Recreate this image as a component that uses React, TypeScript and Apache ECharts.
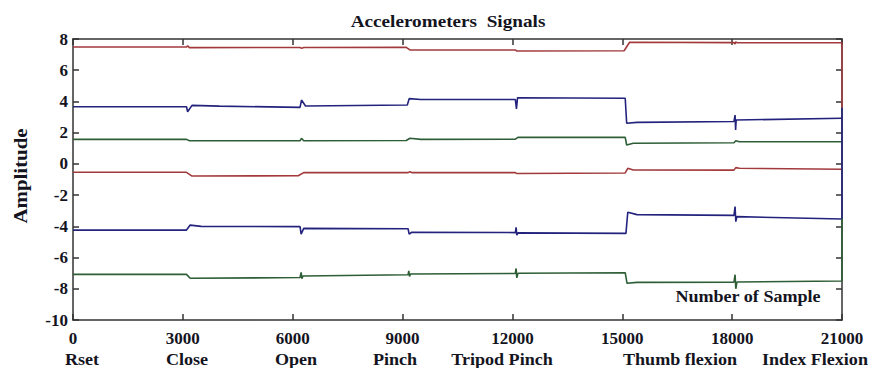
import React, { useEffect, useRef } from "react";
import * as echarts from "echarts";

// Sample index ticks and amplitude range
const xTicks = [0, 3000, 6000, 9000, 12000, 15000, 18000, 21000];
const categories = ["Rset", "Close", "Open", "Pinch", "Tripod Pinch", "Thumb flexion", "Index Flexion"];

// Series values: [sample, amplitude]
const redTop: number[][] = [
  [0, 7.49], [3100, 7.49], [3130, 7.56], [3180, 7.45], [6200, 7.46], [6240, 7.4], [6300, 7.46],
  [9100, 7.47], [9200, 7.3], [12080, 7.3], [12120, 7.23], [15050, 7.25], [15200, 7.79],
  [18050, 7.77], [18080, 7.68], [18100, 7.82], [18130, 7.76], [21000, 7.76], [21000, 3.6],
];
const blueTop: number[][] = [
  [0, 3.66], [3100, 3.66], [3130, 3.34], [3250, 3.75], [4000, 3.7], [6200, 3.62], [6240, 4.09],
  [6350, 3.71], [9130, 3.77], [9180, 4.18], [9500, 4.12], [12080, 4.12], [12110, 3.52],
  [12140, 4.24], [15080, 4.2], [15120, 2.6], [15400, 2.66], [18050, 2.72], [18080, 3.13],
  [18095, 2.17], [18110, 2.81], [21000, 2.92],
];
const greenTop: number[][] = [
  [0, 1.57], [3100, 1.57], [3180, 1.48], [6200, 1.48], [6240, 1.64], [6300, 1.48], [9100, 1.5],
  [9200, 1.64], [9500, 1.57], [12080, 1.58], [12150, 1.7], [15080, 1.7], [15120, 1.21],
  [15300, 1.32], [18050, 1.35], [18100, 1.48], [18200, 1.42], [21000, 1.42],
];
const redMid: number[][] = [
  [0, -0.54], [3100, -0.54], [3250, -0.78], [6150, -0.76], [6300, -0.56], [9150, -0.56],
  [9200, -0.5], [9250, -0.56], [12080, -0.56], [12120, -0.62], [15080, -0.58], [15150, -0.28],
  [15300, -0.39], [18050, -0.4], [18100, -0.24], [18200, -0.28], [21000, -0.34],
];
const blueLow: number[][] = [
  [0, -4.24], [3100, -4.24], [3200, -3.92], [3500, -4.0], [6200, -4.02], [6230, -4.5],
  [6300, -4.13], [9150, -4.15], [9180, -4.5], [9250, -4.38], [12080, -4.4], [12100, -4.06],
  [12120, -4.56], [12150, -4.42], [15100, -4.45], [15150, -3.1], [15400, -3.25], [18050, -3.3],
  [18080, -2.74], [18100, -3.7], [18130, -3.38], [21000, -3.53], [21000, 3.6],
];
const greenLow: number[][] = [
  [0, -7.08], [3100, -7.08], [3200, -7.33], [6200, -7.28], [6230, -6.95], [6250, -7.35],
  [6280, -7.18], [9150, -7.1], [9170, -6.85], [9190, -7.2], [9220, -7.05], [12080, -7.02],
  [12100, -6.7], [12120, -7.3], [12150, -7.01], [15080, -6.97], [15130, -7.65], [15400, -7.59],
  [18050, -7.58], [18080, -7.1], [18100, -8.0], [18130, -7.57], [21000, -7.5], [21000, -3.5],
];

const RED = "#a23a3c";
const BLUE = "#23237e";
const GREEN = "#2e5e36";
const FONT = "'Liberation Serif', 'DejaVu Serif', serif";
const TEXT = "#14141e";

export default function App() {
  const ref = useRef<HTMLDivElement>(null);
  useEffect(() => {
    document.body.style.margin = "0";
    if (!ref.current) return;
    const chart = echarts.init(ref.current, undefined, { renderer: "svg" });
    const axisLine = { show: true, onZero: false, lineStyle: { color: "#333", width: 1.5 } };
    const tick = { show: true, inside: true, length: 6, lineStyle: { color: "#333", width: 1.5 } };
    const labelStyle = { fontFamily: FONT, fontWeight: "bold" as const, fontSize: 17, color: TEXT };
    const mk = (data: number[][], color: string) => ({
      type: "line",
      data,
      showSymbol: false,
      symbol: "none",
      lineStyle: { color, width: 1.6 },
      xAxisIndex: 0,
      yAxisIndex: 0,
    });
    const catX = [82, 187, 296, 395, 502, 680, 815];
    const txt = (text: string, x: number, y: number, size: number, extra: any = {}) => ({
      type: "text", x, y, scaleX: 1.13, ...extra,
      style: { text, fontFamily: FONT, fontWeight: "bold", fontSize: size, fill: TEXT, align: "center", verticalAlign: "middle" },
    });
    chart.setOption({
      animation: false,
      backgroundColor: "#fff",
      grid: { left: 73, right: 30, top: 39, bottom: 48, containLabel: false },
      xAxis: [
        {
          type: "value", min: xTicks[0], max: xTicks[xTicks.length - 1], interval: 3000,
          position: "bottom", axisLine, axisTick: tick, splitLine: { show: false },
          axisLabel: { ...labelStyle, margin: 10, formatter: (v: number) => String(v) },
        },
        {
          type: "value", min: xTicks[0], max: xTicks[xTicks.length - 1], interval: 3000,
          position: "top", axisLine, axisTick: tick, splitLine: { show: false },
          axisLabel: { show: false },
        },
      ],
      yAxis: [
        {
          type: "value", min: -10, max: 8, interval: 2, position: "left",
          axisLine, axisTick: tick, splitLine: { show: false },
          axisLabel: { ...labelStyle, margin: 5 },
        },
        {
          type: "value", min: -10, max: 8, interval: 2, position: "right",
          axisLine, axisTick: tick, splitLine: { show: false },
          axisLabel: { show: false },
        },
      ],
      series: [
        mk(redTop, RED),
        mk(blueTop, BLUE),
        mk(greenTop, GREEN),
        mk(redMid, RED),
        mk(blueLow, BLUE),
        mk(greenLow, GREEN),
      ],
      graphic: [
        txt("Accelerometers  Signals", 448, 21, 17),
        {
          type: "text", x: 20, y: 176, rotation: Math.PI / 2, scaleX: 1.1,
          style: { text: "Amplitude", fontFamily: FONT, fontWeight: "bold", fontSize: 19, fill: TEXT, align: "center", verticalAlign: "middle" },
        },
        txt("Number of Sample", 748, 297, 16),
        ...categories.map((c, i) => txt(c, catX[i], 360, 16)),
      ],
    });
    return () => chart.dispose();
  }, []);
  return <div ref={ref} style={{ width: 872, height: 368 }} />;
}
